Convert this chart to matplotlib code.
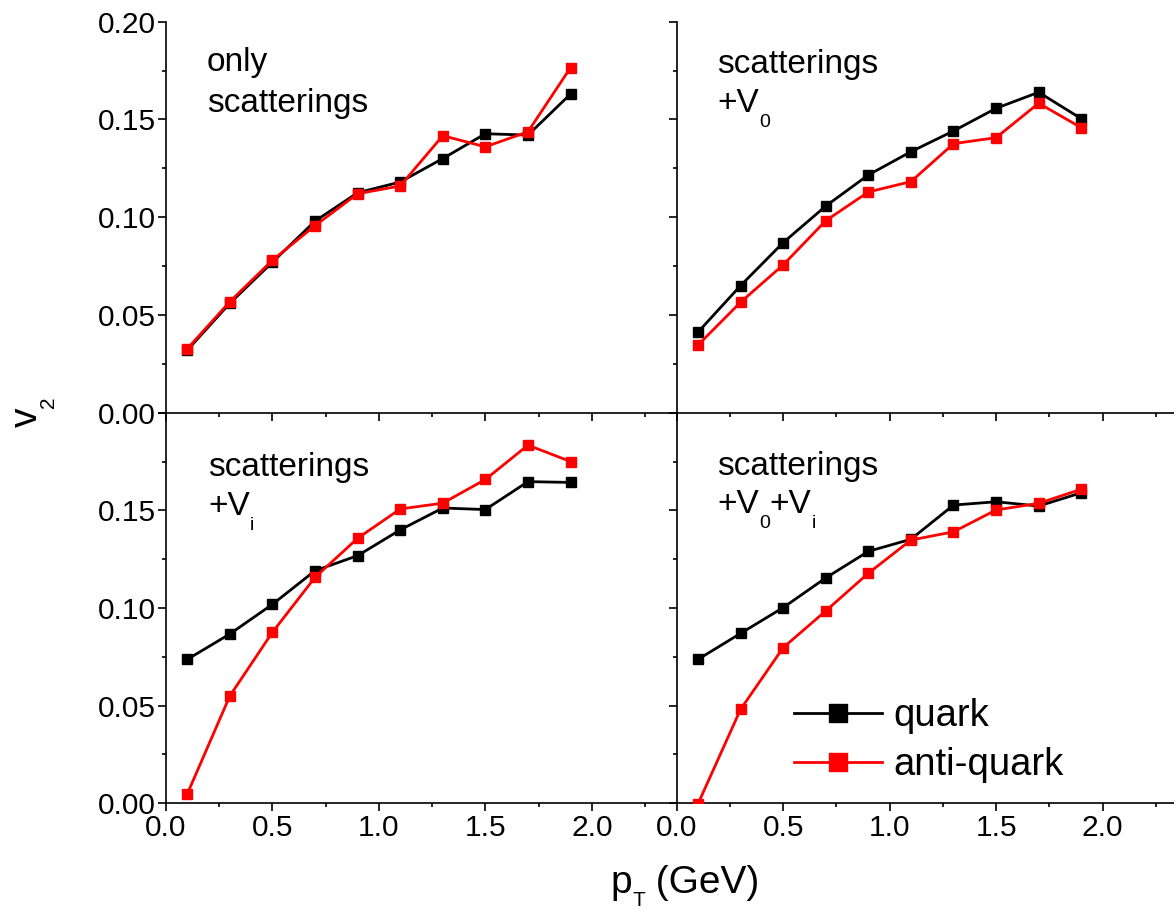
import matplotlib
matplotlib.use("Agg")
from matplotlib import pyplot as plt
from matplotlib.ticker import MultipleLocator, NullFormatter, FormatStrFormatter

plt.rcParams['font.family'] = ['Liberation Sans', 'DejaVu Sans']

pt = [0.1, 0.3, 0.5, 0.7, 0.9, 1.1, 1.3, 1.5, 1.7, 1.9]

# only scatterings
q_scat = [0.032, 0.056, 0.077, 0.098, 0.1125, 0.118, 0.130, 0.1427, 0.142, 0.163]
aq_scat = [0.0327, 0.0568, 0.078, 0.0957, 0.112, 0.116, 0.1417, 0.136, 0.1437, 0.1765]
# scatterings + V0
q_v0 = [0.0412, 0.065, 0.087, 0.1057, 0.1216, 0.1335, 0.1441, 0.1557, 0.1639, 0.1504]
aq_v0 = [0.0346, 0.0565, 0.0756, 0.0982, 0.1129, 0.1182, 0.1376, 0.1407, 0.1583, 0.1458]
# scatterings + Vi
q_vi = [0.0737, 0.0867, 0.1019, 0.1191, 0.1268, 0.140, 0.1512, 0.1504, 0.1647, 0.1643]
aq_vi = [0.0048, 0.055, 0.0876, 0.1157, 0.1357, 0.1507, 0.1537, 0.1658, 0.1834, 0.1750]
# scatterings + V0 + Vi
q_v0vi = [0.0737, 0.087, 0.1002, 0.1154, 0.129, 0.1352, 0.1527, 0.1544, 0.1522, 0.159]
aq_v0vi = [-0.0003, 0.0481, 0.0797, 0.0985, 0.1178, 0.1348, 0.139, 0.1502, 0.1536, 0.1608]

W, H = 1174, 909
fig = plt.figure(figsize=(W / 100, H / 100), dpi=100)
renderer = fig.canvas.get_renderer()

x_left, x_right, aw = 166, 676.7, 511
y_top, y_mid, y_bot = 21.7, 412.7, 803.3


def make_ax(x0, ytop, ybottom):
    return fig.add_axes([x0 / W, 1 - ybottom / H, aw / W, (ybottom - ytop) / H])


def rich_text(x, y, parts, rot=0, center=False):
    # x, y in pixels from top-left; parts are (text, size, drop in px)
    widths = []
    for s, size, drop in parts:
        t = fig.text(0, 0, s, fontsize=size)
        widths.append(t.get_window_extent(renderer).width)
        t.remove()
    pos = -sum(widths) / 2 if center else 0
    for (s, size, drop), w in zip(parts, widths):
        if rot == 0:
            px, py = x + pos, y + drop
        else:
            px, py = x + drop, y - pos
        fig.text(px / W, 1 - py / H, s, fontsize=size, rotation=rot,
                 rotation_mode='anchor', ha='left', va='baseline')
        pos += w


axes = [
    make_ax(x_left, y_top, y_mid),
    make_ax(x_right, y_top, y_mid),
    make_ax(x_left, y_mid, y_bot),
    make_ax(x_right, y_mid, y_bot),
]
datasets = [(q_scat, aq_scat), (q_v0, aq_v0), (q_vi, aq_vi), (q_v0vi, aq_v0vi)]

for i, (ax, (q, aq)) in enumerate(zip(axes, datasets)):
    ax.plot(pt, q, color='black', lw=2, marker='s', ms=7.5, label='quark', zorder=3)
    ax.plot(pt, aq, color='#ff0000', lw=2, marker='s', ms=7.5, label='anti-quark', zorder=4)
    ax.set_xlim(0, 2.4)
    ax.set_ylim(0, 0.2)
    ax.spines['top'].set_visible(False)
    ax.spines['right'].set_visible(False)
    ax.spines['left'].set_linewidth(1.2)
    ax.spines['bottom'].set_linewidth(1.2)
    ax.xaxis.set_major_locator(MultipleLocator(0.5))
    ax.xaxis.set_minor_locator(MultipleLocator(0.25))
    ax.yaxis.set_major_locator(MultipleLocator(0.05))
    ax.yaxis.set_minor_locator(MultipleLocator(0.025))
    ax.xaxis.set_major_formatter(FormatStrFormatter('%.1f'))
    ax.yaxis.set_major_formatter(FormatStrFormatter('%.2f'))
    ax.tick_params(which='major', direction='out', length=5.5, width=1.2, labelsize=21.5, pad=2)
    ax.tick_params(which='minor', direction='out', length=3.2, width=1.2)
    if i < 2:
        ax.xaxis.set_major_formatter(NullFormatter())
    if i % 2 == 1:
        ax.yaxis.set_major_formatter(NullFormatter())
    if i == 2:
        ax.set_yticks([0, 0.05, 0.10, 0.15, 0.20])
        ax.set_yticklabels(['0.00', '0.05', '0.10', '0.15', ''])
    ax.set_facecolor('none')

# panel captions
fs, sfs, drop = 24, 14, 15
fig.text(207 / W, 1 - 71 / H, 'only', fontsize=fs, va='baseline')
fig.text(207 / W, 1 - 112 / H, 'scatterings', fontsize=fs, va='baseline')
fig.text(717 / W, 1 - 73 / H, 'scatterings', fontsize=fs, va='baseline')
rich_text(717, 112, [('+V', fs, 0), ('0', sfs, drop)])
fig.text(208 / W, 1 - 476 / H, 'scatterings', fontsize=fs, va='baseline')
rich_text(208, 515, [('+V', fs, 0), ('i', sfs, drop)])
fig.text(717 / W, 1 - 475 / H, 'scatterings', fontsize=fs, va='baseline')
rich_text(717, 513, [('+V', fs, 0), ('0', sfs, drop), ('+V', fs, 0), ('i', sfs, drop)])

# axis labels
rich_text(685, 893, [('p', 28, 0), ('T', 15, 13), (' (GeV)', 28, 0)], center=True)
rich_text(37, 427, [('v', 28, 0), ('2', 15, 17)], rot=90)

leg = axes[3].legend(loc='lower left', bbox_to_anchor=((794 - x_right) / aw, (803.3 - 783) / 390.6),
                     frameon=False, fontsize=27.5, handlelength=2.3, handletextpad=0.3,
                     labelspacing=0.33, borderpad=0, borderaxespad=0, markerscale=1.7)

fig.savefig('out.png', dpi=100)
